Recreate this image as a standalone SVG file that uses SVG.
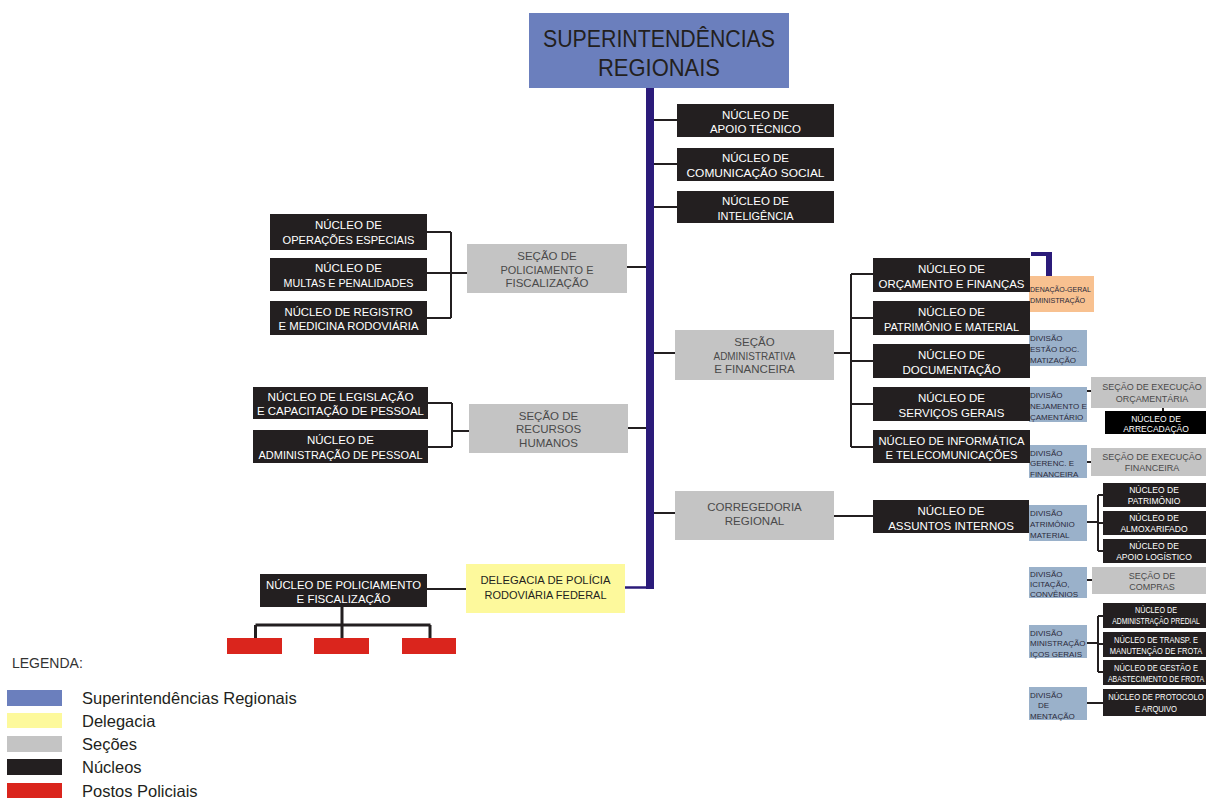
<svg xmlns="http://www.w3.org/2000/svg" width="1206" height="799" viewBox="0 0 1206 799">
<style>
text{font-family:'Liberation Sans',Arial,sans-serif}
.nuc{fill:#231f20}
.nk{fill:#000}
.sec{fill:#c4c4c4}
.sup{fill:#6b7fbd}
.del{fill:#fdf99c}
.pos{fill:#da251d}
.org{fill:#f8c190}
.div{fill:#9ab1ca}
.tw{fill:#fff;font-size:11.5px;text-anchor:middle}
.tg{fill:#4a4a4a;font-size:11.5px;text-anchor:middle}
.td{fill:#231f20;font-size:11px;text-anchor:middle}
.tws{fill:#fff;font-size:8.5px;text-anchor:middle}
.tgs{fill:#4a4a4a;font-size:9px;text-anchor:middle}
.tb{fill:#2a2a3a;font-size:8px}
.ln{stroke:#231f20;stroke-width:2;fill:none}
.lt{stroke:#231f20;stroke-width:3;fill:none}
.nv{fill:#2b1b7a}
.lg{fill:#231f20;font-size:16.5px}
</style>

<g id="connectors">
<rect class="nv" x="646" y="88" width="8" height="501"/>
<path d="M625 587.5H648" stroke="#2b1b7a" stroke-width="2.5" fill="none"/>
<path class="ln" d="M654 120H677M654 164H677M654 207H677"/>
<path class="ln" d="M427 232H451M427 273H467M427 318H451M451 232V318M627 267H646"/>
<path class="ln" d="M428 403H452M428 447H452M452 403V447M452 431H469M628 428H646"/>
<path class="ln" d="M654 353H675M834 353H851M851 274V447M851 274H873M851 318H873M851 361H873M851 404H873M851 447H873"/>
<path class="ln" d="M654 513H675M834 516H873"/>
<path class="ln" d="M427 589H466"/>
<path class="lt" d="M342 607V625M255.5 625H430.5M255.5 625V638M342 625V638M430 625V638"/>
<path class="ln" d="M1087 391H1092M1163 408V411M1087 462H1091"/>
<path class="ln" d="M1087 522H1098M1098 495V551M1098 495H1103M1098 523H1103M1098 551H1103"/>
<path class="ln" d="M1087 580H1092"/>
<path class="ln" d="M1087 643H1098M1098 616V672M1098 616H1103M1098 644H1103M1098 672H1103"/>
<path class="ln" d="M1087 703H1103"/>
<path class="nv" d="M1031 252H1052V276H1046V256H1031Z"/>
</g>

<g id="superintendencias">
<rect class="sup" x="529" y="13" width="260" height="75"/>
<text x="659" y="47" font-size="24" fill="#231f20" text-anchor="middle" textLength="232" lengthAdjust="spacingAndGlyphs">SUPERINTENDÊNCIAS</text>
<text x="659" y="76" font-size="24" fill="#231f20" text-anchor="middle" textLength="122" lengthAdjust="spacingAndGlyphs">REGIONAIS</text>
</g>

<g id="nuc-apoio-tecnico">
<rect class="nuc" x="677" y="104" width="157" height="33"/>
<text class="tw" x="755.5" y="118.5">NÚCLEO DE</text>
<text class="tw" x="755.5" y="133">APOIO TÉCNICO</text>
</g>
<g id="nuc-comunicacao">
<rect class="nuc" x="677" y="148" width="157" height="33"/>
<text class="tw" x="755.5" y="162">NÚCLEO DE</text>
<text class="tw" x="755.5" y="176.5" textLength="138" lengthAdjust="spacingAndGlyphs">COMUNICAÇÃO SOCIAL</text>
</g>
<g id="nuc-inteligencia">
<rect class="nuc" x="677" y="191" width="157" height="32"/>
<text class="tw" x="755.5" y="205">NÚCLEO DE</text>
<text class="tw" x="755.5" y="219.5" textLength="76" lengthAdjust="spacingAndGlyphs">INTELIGÊNCIA</text>
</g>

<g id="nuc-operacoes">
<rect class="nuc" x="270" y="214" width="157" height="36"/>
<text class="tw" x="348.5" y="229">NÚCLEO DE</text>
<text class="tw" x="348.5" y="244" textLength="132" lengthAdjust="spacingAndGlyphs">OPERAÇÕES ESPECIAIS</text>
</g>
<g id="nuc-multas">
<rect class="nuc" x="270" y="258" width="157" height="33"/>
<text class="tw" x="348.5" y="272">NÚCLEO DE</text>
<text class="tw" x="348.5" y="286.5" textLength="130" lengthAdjust="spacingAndGlyphs">MULTAS E PENALIDADES</text>
</g>
<g id="nuc-registro">
<rect class="nuc" x="270" y="301" width="157" height="34"/>
<text class="tw" x="348.5" y="315.5" textLength="128" lengthAdjust="spacingAndGlyphs">NÚCLEO DE REGISTRO</text>
<text class="tw" x="348.5" y="330" textLength="140" lengthAdjust="spacingAndGlyphs">E MEDICINA RODOVIÁRIA</text>
</g>
<g id="sec-policiamento">
<rect class="sec" x="467" y="244" width="160" height="49"/>
<text class="tg" x="547" y="260">SEÇÃO DE</text>
<text class="tg" x="547" y="273.5" textLength="93" lengthAdjust="spacingAndGlyphs">POLICIAMENTO E</text>
<text class="tg" x="547" y="287">FISCALIZAÇÃO</text>
</g>

<g id="nuc-legislacao">
<rect class="nuc" x="253" y="387" width="175" height="32"/>
<text class="tw" x="340.5" y="400.5" textLength="146" lengthAdjust="spacingAndGlyphs">NÚCLEO DE LEGISLAÇÃO</text>
<text class="tw" x="340.5" y="415" textLength="167" lengthAdjust="spacingAndGlyphs">E CAPACITAÇÃO DE PESSOAL</text>
</g>
<g id="nuc-adm-pessoal">
<rect class="nuc" x="253" y="430" width="175" height="33"/>
<text class="tw" x="340.5" y="444">NÚCLEO DE</text>
<text class="tw" x="340.5" y="459" textLength="164" lengthAdjust="spacingAndGlyphs">ADMINISTRAÇÃO DE PESSOAL</text>
</g>
<g id="sec-rh">
<rect class="sec" x="469" y="404" width="159" height="49"/>
<text class="tg" x="548.5" y="419.5">SEÇÃO DE</text>
<text class="tg" x="548.5" y="433">RECURSOS</text>
<text class="tg" x="548.5" y="446.5">HUMANOS</text>
</g>

<g id="sec-administrativa">
<rect class="sec" x="675" y="330" width="159" height="50"/>
<text class="tg" x="754.5" y="346">SEÇÃO</text>
<text class="tg" x="754.5" y="359.5" textLength="82" lengthAdjust="spacingAndGlyphs">ADMINISTRATIVA</text>
<text class="tg" x="754.5" y="373">E FINANCEIRA</text>
</g>

<g id="coord-geral">
<rect class="org" x="1029" y="276" width="65" height="36"/>
<text class="tb" transform="translate(1030 292) scale(0.88 1)">DENAÇÃO-GERAL</text>
<text class="tb" transform="translate(1030 302.5) scale(0.9 1)">DMINISTRAÇÃO</text>
</g>
<g id="div-gestao-doc">
<rect class="div" x="1029" y="330" width="58" height="36"/>
<text class="tb" x="1030" y="341">DIVISÃO</text>
<text class="tb" x="1030" y="352">ESTÃO DOC.</text>
<text class="tb" x="1030" y="363">MATIZAÇÃO</text>
</g>
<g id="div-planejamento">
<rect class="div" x="1029" y="387" width="58" height="35"/>
<text class="tb" x="1030" y="398">DIVISÃO</text>
<text class="tb" x="1030" y="409">NEJAMENTO E</text>
<text class="tb" x="1030" y="420">ÇAMENTÁRIO</text>
</g>
<g id="div-gerenc">
<rect class="div" x="1029" y="445" width="58" height="33"/>
<text class="tb" x="1030" y="455.5">DIVISÃO</text>
<text class="tb" x="1030" y="466">GERENC. E</text>
<text class="tb" x="1030" y="476.5">FINANCEIRA</text>
</g>
<g id="div-patrimonio">
<rect class="div" x="1029" y="505" width="58" height="36"/>
<text class="tb" x="1030" y="515.5">DIVISÃO</text>
<text class="tb" x="1030" y="526.5">ATRIMÔNIO</text>
<text class="tb" x="1030" y="537.5">MATERIAL</text>
</g>
<g id="div-licitacao">
<rect class="div" x="1029" y="567" width="58" height="31"/>
<text class="tb" x="1030" y="576.5">DIVISÃO</text>
<text class="tb" x="1030" y="586.5">ICITAÇÃO,</text>
<text class="tb" x="1030" y="596.5">CONVÊNIOS</text>
</g>
<g id="div-servicos">
<rect class="div" x="1029" y="625" width="58" height="33"/>
<text class="tb" x="1030" y="635.5">DIVISÃO</text>
<text class="tb" x="1030" y="646">MINISTRAÇÃO</text>
<text class="tb" x="1030" y="656.5">IÇOS GERAIS</text>
</g>
<g id="div-documentacao">
<rect class="div" x="1029" y="687" width="58" height="33"/>
<text class="tb" x="1030" y="697.5">DIVISÃO</text>
<text class="tb" x="1038" y="708">DE</text>
<text class="tb" x="1030" y="718.5">MENTAÇÃO</text>
</g>

<g id="sec-exec-orcamentaria">
<rect class="sec" x="1091" y="377" width="115" height="31"/>
<text class="tgs" x="1152" y="389.5" font-size="8.5">SEÇÃO DE EXECUÇÃO</text>
<text class="tgs" x="1152" y="401.5">ORÇAMENTÁRIA</text>
</g>
<g id="nuc-arrecadacao">
<rect class="nk" x="1105" y="411" width="101" height="23"/>
<text class="tws" x="1156" y="421.5" font-size="9">NÚCLEO DE</text>
<text class="tws" x="1156" y="432" font-size="9">ARRECADAÇÃO</text>
</g>
<g id="sec-exec-financeira">
<rect class="sec" x="1091" y="448" width="115" height="28"/>
<text class="tgs" x="1152" y="459.5" font-size="8.5">SEÇÃO DE EXECUÇÃO</text>
<text class="tgs" x="1152" y="471">FINANCEIRA</text>
</g>
<g id="nuc-patrimonio">
<rect class="nuc" x="1103" y="483" width="103" height="24"/>
<text class="tws" x="1154" y="493">NÚCLEO DE</text>
<text class="tws" x="1154" y="504">PATRIMÔNIO</text>
</g>
<g id="nuc-almoxarifado">
<rect class="nuc" x="1103" y="511" width="103" height="24"/>
<text class="tws" x="1154" y="521">NÚCLEO DE</text>
<text class="tws" x="1154" y="532">ALMOXARIFADO</text>
</g>
<g id="nuc-apoio-logistico">
<rect class="nuc" x="1103" y="539" width="103" height="24"/>
<text class="tws" x="1154" y="549">NÚCLEO DE</text>
<text class="tws" x="1154" y="560">APOIO LOGÍSTICO</text>
</g>
<g id="sec-compras">
<rect class="sec" x="1092" y="567" width="114" height="27"/>
<text class="tgs" x="1152" y="578.5">SEÇÃO DE</text>
<text class="tgs" x="1152" y="590">COMPRAS</text>
</g>
<g id="nuc-adm-predial">
<rect class="nuc" x="1103" y="603" width="103" height="25"/>
<text class="tws" font-size="8" transform="translate(1156 613) scale(0.85 1)">NÚCLEO DE</text>
<text class="tws" font-size="8" transform="translate(1156 624) scale(0.8 1)">ADMINISTRAÇÃO PREDIAL</text>
</g>
<g id="nuc-transp">
<rect class="nuc" x="1103" y="632" width="103" height="25"/>
<text class="tws" font-size="8" transform="translate(1156 642.5) scale(0.88 1)">NÚCLEO DE TRANSP. E</text>
<text class="tws" font-size="8" transform="translate(1156 653.5) scale(0.88 1)">MANUTENÇÃO DE FROTA</text>
</g>
<g id="nuc-gestao-frota">
<rect class="nuc" x="1103" y="660" width="103" height="25"/>
<text class="tws" font-size="8" transform="translate(1156 670.5) scale(0.88 1)">NÚCLEO DE GESTÃO E</text>
<text class="tws" font-size="8" transform="translate(1156 681.5) scale(0.82 1)">ABASTECIMENTO DE FROTA</text>
</g>
<g id="nuc-protocolo">
<rect class="nuc" x="1103" y="689" width="103" height="27"/>
<text class="tws" font-size="8" transform="translate(1156 700) scale(0.9 1)">NÚCLEO DE PROTOCOLO</text>
<text class="tws" font-size="8" transform="translate(1156 711.5) scale(0.9 1)">E ARQUIVO</text>
</g>

<g id="nuc-orcamento">
<rect class="nuc" x="873" y="258" width="157" height="34"/>
<text class="tw" x="951.5" y="273">NÚCLEO DE</text>
<text class="tw" x="951.5" y="287.5" textLength="146" lengthAdjust="spacingAndGlyphs">ORÇAMENTO E FINANÇAS</text>
</g>
<g id="nuc-patrimonio-material">
<rect class="nuc" x="873" y="301" width="157" height="34"/>
<text class="tw" x="951.5" y="316">NÚCLEO DE</text>
<text class="tw" x="951.5" y="330.5" textLength="135" lengthAdjust="spacingAndGlyphs">PATRIMÔNIO E MATERIAL</text>
</g>
<g id="nuc-documentacao">
<rect class="nuc" x="873" y="344" width="157" height="34"/>
<text class="tw" x="951.5" y="359">NÚCLEO DE</text>
<text class="tw" x="951.5" y="373.5">DOCUMENTAÇÃO</text>
</g>
<g id="nuc-servicos-gerais">
<rect class="nuc" x="873" y="387" width="157" height="34"/>
<text class="tw" x="951.5" y="402">NÚCLEO DE</text>
<text class="tw" x="951.5" y="416.5">SERVIÇOS GERAIS</text>
</g>
<g id="nuc-informatica">
<rect class="nuc" x="873" y="430" width="157" height="33"/>
<text class="tw" x="951.5" y="444.5" textLength="146" lengthAdjust="spacingAndGlyphs">NÚCLEO DE INFORMÁTICA</text>
<text class="tw" x="951.5" y="459" textLength="132" lengthAdjust="spacingAndGlyphs">E TELECOMUNICAÇÕES</text>
</g>

<g id="corregedoria">
<rect class="sec" x="675" y="491" width="159" height="49"/>
<text class="tg" x="754.5" y="511">CORREGEDORIA</text>
<text class="tg" x="754.5" y="525">REGIONAL</text>
</g>
<g id="nuc-assuntos-internos">
<rect class="nuc" x="873" y="500" width="156" height="33"/>
<text class="tw" x="951" y="515">NÚCLEO DE</text>
<text class="tw" x="951" y="529.5">ASSUNTOS INTERNOS</text>
</g>

<g id="delegacia">
<rect class="del" x="466" y="564" width="159" height="49"/>
<text class="td" x="545.5" y="584" textLength="130" lengthAdjust="spacingAndGlyphs">DELEGACIA DE POLÍCIA</text>
<text class="td" x="545.5" y="598.5" textLength="122" lengthAdjust="spacingAndGlyphs">RODOVIÁRIA FEDERAL</text>
</g>
<g id="nuc-policiamento">
<rect class="nuc" x="260" y="574" width="167" height="33"/>
<text class="tw" x="343.5" y="588.5" textLength="155" lengthAdjust="spacingAndGlyphs">NÚCLEO DE POLICIAMENTO</text>
<text class="tw" x="343.5" y="603">E FISCALIZAÇÃO</text>
</g>
<g id="postos">
<rect class="pos" x="227" y="638" width="55" height="16"/>
<rect class="pos" x="314" y="638" width="55" height="16"/>
<rect class="pos" x="402" y="638" width="54" height="16"/>
</g>

<g id="legenda">
<text x="12" y="668" font-size="14" fill="#333">LEGENDA:</text>
<rect class="sup" x="7" y="690" width="55" height="16"/>
<rect class="del" x="7" y="713" width="55" height="15"/>
<rect class="sec" x="7" y="736" width="55" height="16"/>
<rect class="nuc" x="7" y="759" width="55" height="16"/>
<rect class="pos" x="7" y="783" width="55" height="15"/>
<text class="lg" x="82" y="704">Superintendências Regionais</text>
<text class="lg" x="82" y="727">Delegacia</text>
<text class="lg" x="82" y="750">Seções</text>
<text class="lg" x="82" y="773">Núcleos</text>
<text class="lg" x="82" y="797">Postos Policiais</text>
</g>
</svg>
